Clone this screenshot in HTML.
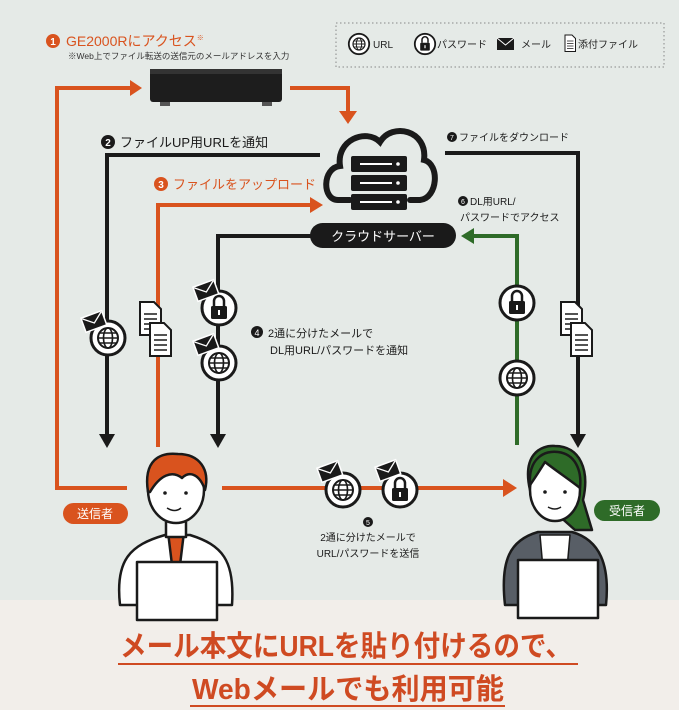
<!DOCTYPE html>
<html><head><meta charset="utf-8"><style>
html,body{margin:0;padding:0;}
body{width:679px;height:710px;overflow:hidden;background:#f2eeea;font-family:"Liberation Sans","Noto Sans CJK JP",sans-serif;}
svg{display:block}
text{font-family:"Liberation Sans","Noto Sans CJK JP",sans-serif;}
</style></head><body>
<svg width="679" height="710" viewBox="0 0 679 710" xmlns="http://www.w3.org/2000/svg">
<defs>
<g id="globe"><circle r="17" fill="#fff" stroke="#1a1a1a" stroke-width="3"/><circle r="10" fill="none" stroke="#1a1a1a" stroke-width="2"/><ellipse rx="4.5" ry="10" fill="none" stroke="#1a1a1a" stroke-width="1.6"/><line x1="-10" y1="0" x2="10" y2="0" stroke="#1a1a1a" stroke-width="1.6"/><line x1="-9" y1="-5" x2="9" y2="-5" stroke="#1a1a1a" stroke-width="1.4"/><line x1="-9" y1="5" x2="9" y2="5" stroke="#1a1a1a" stroke-width="1.4"/></g>
<g id="lock"><circle r="17" fill="#fff" stroke="#1a1a1a" stroke-width="3"/><path d="M-5,-2 v-5 a5,5 0 0 1 10,0 v5" fill="none" stroke="#1a1a1a" stroke-width="2.5"/><rect x="-8" y="-2" width="16" height="13" rx="1.5" fill="#1a1a1a"/><rect x="-1" y="2" width="2" height="5" fill="#fff"/></g>
<g id="env"><g transform="rotate(-20)"><rect x="-11" y="-8" width="22" height="15" fill="#1a1a1a" stroke="#fff" stroke-width="1.5"/><path d="M-10,-7 L0,1 L10,-7" fill="none" stroke="#fff" stroke-width="1.3"/></g></g>
<g id="doc"><path d="M0,0 h14 l7,7 v26 h-21z" fill="#fff" stroke="#1a1a1a" stroke-width="2"/><line x1="4" y1="12" x2="17" y2="12" stroke="#1a1a1a" stroke-width="1.5"/><line x1="4" y1="17" x2="17" y2="17" stroke="#1a1a1a" stroke-width="1.5"/><line x1="4" y1="22" x2="17" y2="22" stroke="#1a1a1a" stroke-width="1.5"/><line x1="4" y1="27" x2="17" y2="27" stroke="#1a1a1a" stroke-width="1.5"/></g>
</defs>
<rect x="0" y="0" width="679" height="600" fill="#e5eae7"/>
<circle cx="53" cy="41" r="7" fill="#d9531e"/><text x="53" y="45" font-size="10" fill="#fff" text-anchor="middle" font-weight="bold">1</text>
<text x="66" y="46" font-size="14" fill="#d9531e">GE2000Rにアクセス<tspan font-size="7" dy="-6">※</tspan></text>
<text x="68" y="59" font-size="8.5" fill="#333">※Web上でファイル転送の送信元のメールアドレスを入力</text>
<rect x="336" y="23" width="328" height="44" fill="none" stroke="#888" stroke-width="1" stroke-dasharray="1.5,2.5"/>
<g transform="translate(359,44) scale(0.6)"><use href="#globe"/></g><text x="373" y="48" font-size="10" fill="#222">URL</text>
<g transform="translate(425,44) scale(0.6)"><use href="#lock"/></g><text x="437" y="48" font-size="10" fill="#222">パスワード</text>
<rect x="497" y="38" width="17" height="12" fill="#1a1a1a"/><path d="M497,38 L505.5,45 L514,38" fill="none" stroke="#fff" stroke-width="1"/><text x="521" y="48" font-size="10" fill="#222">メール</text>
<g transform="translate(565,35) scale(0.5)"><use href="#doc"/></g><text x="578" y="48" font-size="10" fill="#222">添付ファイル</text>
<rect x="150" y="69" width="132" height="33" rx="3" fill="#1d1d1d"/><rect x="150" y="69" width="132" height="5" fill="#333"/>
<rect x="160" y="102" width="10" height="4" fill="#555"/><rect x="262" y="102" width="10" height="4" fill="#555"/>
<path d="M127,488 H57 V88 H132" fill="none" stroke="#d9531e" stroke-width="4"/><path d="M130,80 L142,88 L130,96z" fill="#d9531e"/>
<path d="M290,88 H348 V112" fill="none" stroke="#d9531e" stroke-width="4"/><path d="M339,111 L348,124 L357,111z" fill="#d9531e"/>
<path d="M320,155 H107 V435" fill="none" stroke="#1a1a1a" stroke-width="4"/><path d="M99,434 L107,448 L115,434z" fill="#1a1a1a"/>
<circle cx="108" cy="142" r="7" fill="#1a1a1a"/><text x="108" y="146" font-size="10" fill="#fff" text-anchor="middle" font-weight="bold">2</text>
<text x="120" y="147" font-size="13" fill="#1a1a1a">ファイルUP用URLを通知</text>
<path d="M158,447 V205 H312" fill="none" stroke="#d9531e" stroke-width="4"/><path d="M310,197 L323,205 L310,213z" fill="#d9531e"/>
<circle cx="161" cy="184" r="7" fill="#d9531e"/><text x="161" y="188" font-size="10" fill="#fff" text-anchor="middle" font-weight="bold">3</text>
<text x="173" y="189" font-size="13" fill="#d9531e">ファイルをアップロード</text>
<path d="M312,236 H218 V435" fill="none" stroke="#1a1a1a" stroke-width="4"/><path d="M210,434 L218,448 L226,434z" fill="#1a1a1a"/>
<path d="M445,153 H578 V435" fill="none" stroke="#1a1a1a" stroke-width="4"/><path d="M570,434 L578,448 L586,434z" fill="#1a1a1a"/>
<circle cx="452" cy="137" r="5" fill="#1a1a1a"/><text x="452" y="140" font-size="7" fill="#fff" text-anchor="middle">7</text>
<text x="459" y="141" font-size="10" fill="#1a1a1a">ファイルをダウンロード</text>
<path d="M517,445 V236 H472" fill="none" stroke="#2e6b28" stroke-width="4"/><path d="M474,228 L461,236 L474,244z" fill="#2e6b28"/>
<circle cx="463" cy="201" r="5" fill="#1a1a1a"/><text x="463" y="204" font-size="7" fill="#fff" text-anchor="middle">6</text>
<text x="470" y="205" font-size="10" fill="#1a1a1a">DL用URL/</text>
<text x="460" y="221" font-size="10" fill="#1a1a1a">パスワードでアクセス</text>
<path d="M350,200 H338 C322,200 322,168 340,166 C336,140 366,128 380,142 C392,122 428,130 424,160 C440,164 438,198 420,200 H410" fill="#e5eae7" stroke="#1a1a1a" stroke-width="6" stroke-linecap="round"/>
<g fill="#1a1a1a"><rect x="351" y="156" width="56" height="16" rx="2"/><rect x="351" y="175" width="56" height="16" rx="2"/><rect x="351" y="194" width="56" height="16" rx="2"/></g>
<g stroke="#fff" stroke-width="2"><line x1="360" y1="164" x2="392" y2="164"/><line x1="360" y1="183" x2="392" y2="183"/><line x1="360" y1="202" x2="392" y2="202"/></g>
<g fill="#fff"><circle cx="398" cy="164" r="1.8"/><circle cx="398" cy="183" r="1.8"/><circle cx="398" cy="202" r="1.8"/></g>
<rect x="310" y="223" width="146" height="25" rx="12.5" fill="#1a1a1a"/><text x="383" y="241" font-size="13" fill="#fff" text-anchor="middle">クラウドサーバー</text>
<use href="#globe" x="108" y="338"/><use href="#env" x="94" y="322"/>
<g transform="translate(140,302)"><use href="#doc"/></g><g transform="translate(150,323)"><use href="#doc"/></g>
<use href="#lock" x="219" y="308"/><use href="#env" x="206" y="291"/>
<use href="#globe" x="219" y="363"/><use href="#env" x="206" y="345"/>
<circle cx="257" cy="332" r="6" fill="#1a1a1a"/><text x="257" y="336" font-size="9" fill="#fff" text-anchor="middle">4</text>
<text x="268" y="337" font-size="11" fill="#1a1a1a">2通に分けたメールで</text>
<text x="270" y="354" font-size="11" fill="#1a1a1a">DL用URL/パスワードを通知</text>
<use href="#lock" x="517" y="303"/><use href="#globe" x="517" y="378"/>
<g transform="translate(561,302)"><use href="#doc"/></g><g transform="translate(571,323)"><use href="#doc"/></g>
<path d="M222,488 H505" fill="none" stroke="#d9531e" stroke-width="4"/><path d="M503,479 L517,488 L503,497z" fill="#d9531e"/>
<use href="#globe" x="343" y="490"/><use href="#env" x="330" y="472"/>
<use href="#lock" x="400" y="490"/><use href="#env" x="388" y="471"/>
<circle cx="368" cy="522" r="5" fill="#1a1a1a"/><text x="368" y="525" font-size="7" fill="#fff" text-anchor="middle">5</text>
<text x="368" y="541" font-size="10" fill="#1a1a1a" text-anchor="middle">2通に分けたメールで</text>
<text x="368" y="557" font-size="10" fill="#1a1a1a" text-anchor="middle">URL/パスワードを送信</text>
<rect x="63" y="503" width="65" height="21" rx="10.5" fill="#d9531e"/><text x="95" y="518" font-size="12" fill="#fff" text-anchor="middle">送信者</text>
<rect x="594" y="500" width="66" height="21" rx="10.5" fill="#2e6b28"/><text x="627" y="515" font-size="12" fill="#fff" text-anchor="middle">受信者</text>
<g stroke="#1a1a1a" stroke-width="2.5" stroke-linejoin="round">
<path d="M120,605 C115,560 130,545 165,535 L190,535 C222,545 235,560 232,605z" fill="#fff"/>
<path d="M168,532 L172,565 L180,565 L184,532z" fill="#d9531e"/>
<path d="M166,522 V537 H186 V522" fill="#fff"/>
<ellipse cx="176" cy="490" rx="28" ry="33" fill="#fff"/>
<path d="M148,492 C143,460 160,452 178,454 C200,454 210,470 205,490 C200,475 190,470 182,478 C172,470 160,475 150,492z" fill="#d9531e"/>
<rect x="137" y="562" width="80" height="58" fill="#fff"/>
</g>
<path d="M167,508 q8,5 14,0" fill="none" stroke="#1a1a1a" stroke-width="1.5"/><circle cx="165" cy="493" r="1.8" fill="#1a1a1a"/><circle cx="186" cy="493" r="1.8" fill="#1a1a1a"/>
<g stroke="#1a1a1a" stroke-width="2.5" stroke-linejoin="round">
<path d="M530,490 C522,455 540,445 555,446 C580,446 590,470 583,500 L592,530 L575,530z" fill="#2e6b28"/>
<path d="M505,605 C500,560 510,540 538,532 L572,532 C600,540 610,565 606,605z" fill="#585e66"/>
<path d="M540,535 L570,535 L566,580 L544,580z" fill="#fff" stroke-width="1.5"/>
<ellipse cx="555" cy="490" rx="25" ry="31" fill="#fff"/>
<path d="M530,485 C528,458 545,450 558,452 C575,454 582,470 580,488 C570,480 555,470 545,462 C540,470 535,478 530,485z" fill="#2e6b28"/>
<rect x="518" y="560" width="80" height="58" fill="#fff"/>
</g>
<path d="M548,507 q7,4 13,0" fill="none" stroke="#1a1a1a" stroke-width="1.5"/><circle cx="545" cy="492" r="1.8" fill="#1a1a1a"/><circle cx="565" cy="492" r="1.8" fill="#1a1a1a"/>
<text x="120" y="656" font-size="29" font-weight="bold" fill="#cf4a22" textLength="452" lengthAdjust="spacingAndGlyphs">メール本文にURLを貼り付けるので、</text>
<rect x="118" y="663" width="460" height="2" fill="#cf4a22"/>
<text x="192" y="699" font-size="29" font-weight="bold" fill="#cf4a22" textLength="312" lengthAdjust="spacingAndGlyphs">Webメールでも利用可能</text>
<rect x="190" y="705" width="315" height="2" fill="#cf4a22"/>
</svg>
</body></html>
